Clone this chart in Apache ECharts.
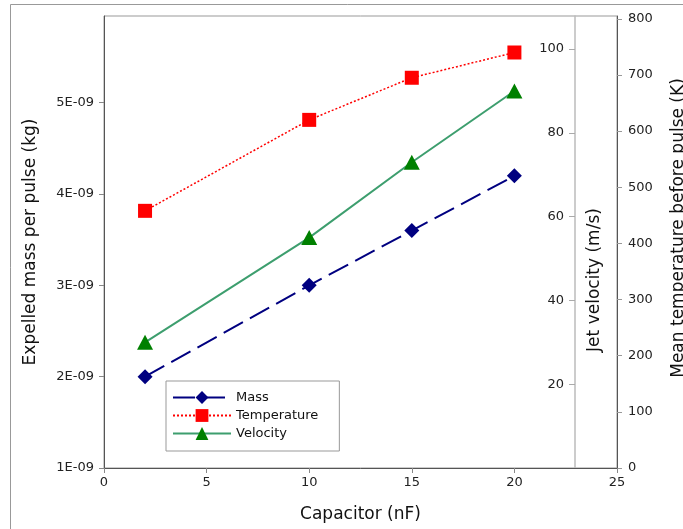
<!DOCTYPE html>
<html>
<head>
<meta charset="utf-8">
<script src="https://cdn.jsdelivr.net/npm/echarts@6/dist/echarts.min.js"></script>
<style>html,body{margin:0;padding:0;background:#fff;}#c{width:683px;height:529px;}</style>
</head>
<body>
<div id="c"></div>
<script>
const capacitor = [2, 10, 15, 20];
const massValues = [2e-9, 3e-9, 3.6e-9, 4.2e-9];
const temperatureValues = [458, 620, 695, 740];
const velocityValues = [30, 55, 73, 90];
const xTicks = [0, 5, 10, 15, 20, 25];
const massTicks = [1e-9, 2e-9, 3e-9, 4e-9, 5e-9];
const tempTicks = [0, 100, 200, 300, 400, 500, 600, 700, 800];
const velTicks = [20, 40, 60, 80, 100];

const font = 'DejaVu Sans';
const chart = echarts.init(document.getElementById('c'), null, {renderer: 'canvas'});
const pairs = (ys) => capacitor.map((x, i) => [x, ys[i]]);

chart.setOption({
  animation: false,
  backgroundColor: '#fff',
  textStyle: {fontFamily: font},
  graphic: [{
    type: 'rect', silent: true, z: -10,
    shape: {x: 10.5, y: 4.5, width: 900, height: 900},
    style: {fill: 'none', stroke: '#999', lineWidth: 1}
  }],
  grid: {left: 104, right: 66, top: 16, bottom: 61, show: true, borderColor: '#999', borderWidth: 1,
    containLabel: false, outerBoundsMode: 'none'},
  legend: {
    orient: 'vertical', left: 166, top: 381,
    padding: [10, 21, 11, 6], itemGap: 5, itemWidth: 58, itemHeight: 16,
    borderColor: '#999', borderWidth: 1, backgroundColor: '#fff',
    textStyle: {fontFamily: font, fontSize: 13, color: '#111'},
    data: ['Mass', 'Temperature', 'Velocity']
  },
  xAxis: {
    type: 'value', min: 0, max: 25, interval: 5,
    axisLine: {lineStyle: {color: '#555', width: 1}},
    axisTick: {show: true, length: 5, lineStyle: {color: '#888'}},
    axisLabel: {fontFamily: font, fontSize: 13, color: '#222', margin: 8, customValues: xTicks},
    splitLine: {show: false},
    name: 'Capacitor (nF)', nameLocation: 'middle', nameGap: 38,
    nameTextStyle: {fontFamily: font, fontSize: 17, color: '#111'}
  },
  yAxis: [{
    type: 'value', position: 'left', min: 1e-9, max: 5.95e-9, interval: 1e-9,
    axisLine: {show: true, lineStyle: {color: '#555', width: 1}},
    axisTick: {show: true, length: 5, lineStyle: {color: '#888'}, customValues: massTicks},
    axisLabel: {fontFamily: font, fontSize: 13, color: '#222', margin: 10, customValues: massTicks,
      formatter: v => Math.round(v * 1e9) + 'E-09'},
    splitLine: {show: false},
    name: 'Expelled mass per pulse (kg)', nameLocation: 'middle', nameGap: 65, nameRotate: 90,
    nameTextStyle: {fontFamily: font, fontSize: 17, color: '#111'}
  }, {
    type: 'value', position: 'right', min: 0, max: 805, interval: 100,
    axisLine: {show: true, lineStyle: {color: '#555', width: 1}},
    axisTick: {show: true, length: 5, lineStyle: {color: '#999'}, customValues: tempTicks},
    axisLabel: {fontFamily: font, fontSize: 13, color: '#222', margin: 11, customValues: tempTicks},
    splitLine: {show: false},
    name: 'Mean temperature before pulse (K)', nameLocation: 'middle', nameGap: 53, nameRotate: 90,
    nameTextStyle: {fontFamily: font, fontSize: 17, color: '#111', padding: [0, 0, 0, 28]}
  }, {
    type: 'value', position: 'right', offset: -42, min: 0, max: 107.9, interval: 20,
    axisLine: {show: true, lineStyle: {color: '#bbb', width: 1.5}},
    axisTick: {show: true, inside: true, length: 6, lineStyle: {color: '#aaa'}, customValues: velTicks},
    axisLabel: {inside: true, fontFamily: font, fontSize: 13, color: '#222', margin: 11, customValues: velTicks},
    splitLine: {show: false},
    name: 'Jet velocity (m/s)', nameLocation: 'middle', nameGap: 11, nameRotate: 90,
    nameTextStyle: {fontFamily: font, fontSize: 17, color: '#111', padding: [0, 76, 0, 0]}
  }],
  series: [{
    name: 'Mass', type: 'line', yAxisIndex: 0, data: pairs(massValues),
    symbol: 'diamond', symbolSize: 15,
    itemStyle: {color: '#000080'},
    lineStyle: {color: '#000080', width: 2, type: [22, 8]}
  }, {
    name: 'Temperature', type: 'line', yAxisIndex: 1, data: pairs(temperatureValues),
    symbol: 'rect', symbolSize: 14,
    itemStyle: {color: '#ff0000'},
    lineStyle: {color: '#ff0000', width: 1.5, type: [2, 2]}
  }, {
    name: 'Velocity', type: 'line', yAxisIndex: 2, data: pairs(velocityValues),
    symbol: 'triangle', symbolSize: [16, 15],
    itemStyle: {color: '#008000'},
    lineStyle: {color: '#3d9e6e', width: 2}
  }]
});
</script>
</body>
</html>
